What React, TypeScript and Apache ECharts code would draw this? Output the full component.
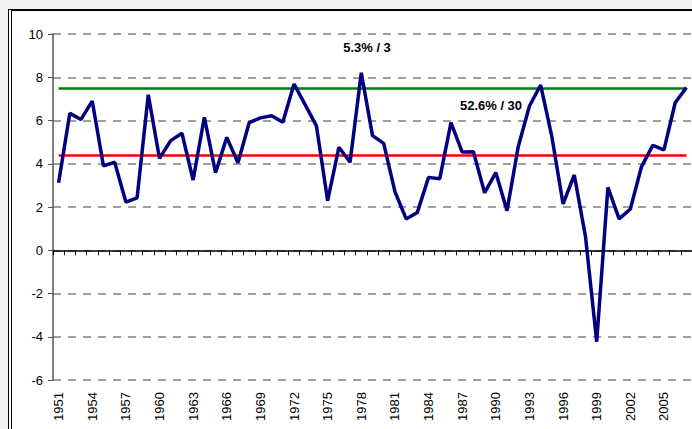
import React, { useEffect, useRef } from "react";
import * as echarts from "echarts";

const years: string[] = [];
for (let y = 1951; y <= 2007; y++) years.push(String(y));

const growth = [
  3.12, 6.33, 6.05, 6.9, 3.9, 4.07, 2.23, 2.42, 7.19, 4.25,
  5.07, 5.41, 3.25, 6.15, 3.59, 5.22, 4.05, 5.9, 6.12, 6.22,
  5.92, 7.69, 6.72, 5.75, 2.29, 4.76, 4.07, 8.21, 5.3, 4.94,
  2.71, 1.45, 1.75, 3.37, 3.31, 5.9, 4.54, 4.56, 2.66, 3.59,
  1.83, 4.79, 6.67, 7.64, 5.25, 2.14, 3.48, 0.63, -4.23, 2.91,
  1.45, 1.91, 3.87, 4.85, 4.64, 6.82, 7.53,
];

const meanLevel = 4.37;
const upperLevel = 7.5;
const upperNote = "5.3% / 3";
const middleNote = "52.6% / 30";
const yTicks = { min: -6, max: 10, interval: 2 };

const FONT = "'Liberation Sans', Arial, sans-serif";

export default function App() {
  const ref = useRef<HTMLDivElement>(null);
  useEffect(() => {
    if (!ref.current) return;
    const chart = echarts.init(ref.current, null, { renderer: "svg" });
    const first = years[0];
    const last = years[years.length - 1];
    chart.setOption({
      animation: false,
      backgroundColor: "transparent",
      textStyle: { fontFamily: FONT },
      grid: { left: 53, top: 34, right: 0, bottom: 49, containLabel: false },
      xAxis: [
        {
          type: "category",
          data: years,
          boundaryGap: true,
          position: "bottom",
          axisLine: { onZero: true, lineStyle: { color: "#000", width: 1.5 } },
          axisTick: { show: true, interval: 0, length: 5, lineStyle: { color: "#000", width: 1 } },
          axisLabel: { show: false },
          splitLine: { show: false },
        },
        {
          type: "category",
          data: years,
          boundaryGap: true,
          position: "bottom",
          axisLine: { show: false, onZero: false },
          axisTick: { show: false },
          axisLabel: {
            show: true,
            rotate: 90,
            interval: 2,
            margin: 12,
            fontSize: 13,
            color: "#000",
            fontFamily: FONT,
          },
          splitLine: { show: false },
        },
      ],
      yAxis: {
        type: "value",
        min: yTicks.min,
        max: yTicks.max,
        interval: yTicks.interval,
        axisLine: { show: true, lineStyle: { color: "#555", width: 1.5 } },
        axisTick: { show: true, length: 5, lineStyle: { color: "#555", width: 1 } },
        axisLabel: { fontSize: 13, color: "#000", margin: 10, fontFamily: FONT },
        splitLine: {
          show: true,
          lineStyle: { color: "#808080", type: [8, 7], width: 1.6 },
        },
      },
      series: [
        {
          type: "line",
          data: growth,
          xAxisIndex: 0,
          symbol: "none",
          lineStyle: { color: "#000080", width: 3.5 },
          z: 5,
          markLine: {
            silent: true,
            symbol: "none",
            label: { show: false },
            data: [
              [
                { coord: [first, meanLevel], lineStyle: { color: "#ff0000", width: 2.5, type: "solid" } },
                { coord: [last, meanLevel] },
              ],
              [
                { coord: [first, upperLevel], lineStyle: { color: "#008000", width: 2.5, type: "solid" } },
                { coord: [last, upperLevel] },
              ],
            ],
          },
        },
      ],
      graphic: [
        {
          type: "text",
          x: 367,
          y: 47,
          z: 10,
          style: {
            text: upperNote,
            font: `bold 13px ${FONT}`,
            fill: "#000",
            textAlign: "center",
            textVerticalAlign: "middle",
          },
        },
        {
          type: "text",
          x: 491,
          y: 105,
          z: 10,
          style: {
            text: middleNote,
            font: `bold 13px ${FONT}`,
            fill: "#000",
            textAlign: "center",
            textVerticalAlign: "middle",
          },
        },
      ],
    });
    return () => chart.dispose();
  }, []);

  return (
    <div
      style={{
        position: "fixed",
        left: 0,
        top: 0,
        width: 692,
        height: 429,
        background: "#f2f2f2",
        overflow: "hidden",
      }}
    >
      <div
        style={{
          position: "absolute",
          left: 8,
          top: 9,
          right: 0,
          bottom: 0,
          background: "#fff",
          borderTop: "2px solid #000",
          borderLeft: "4px double #000",
        }}
      />
      <div
        ref={ref}
        style={{ position: "absolute", left: 0, top: 0, width: 692, height: 429 }}
      />
    </div>
  );
}
